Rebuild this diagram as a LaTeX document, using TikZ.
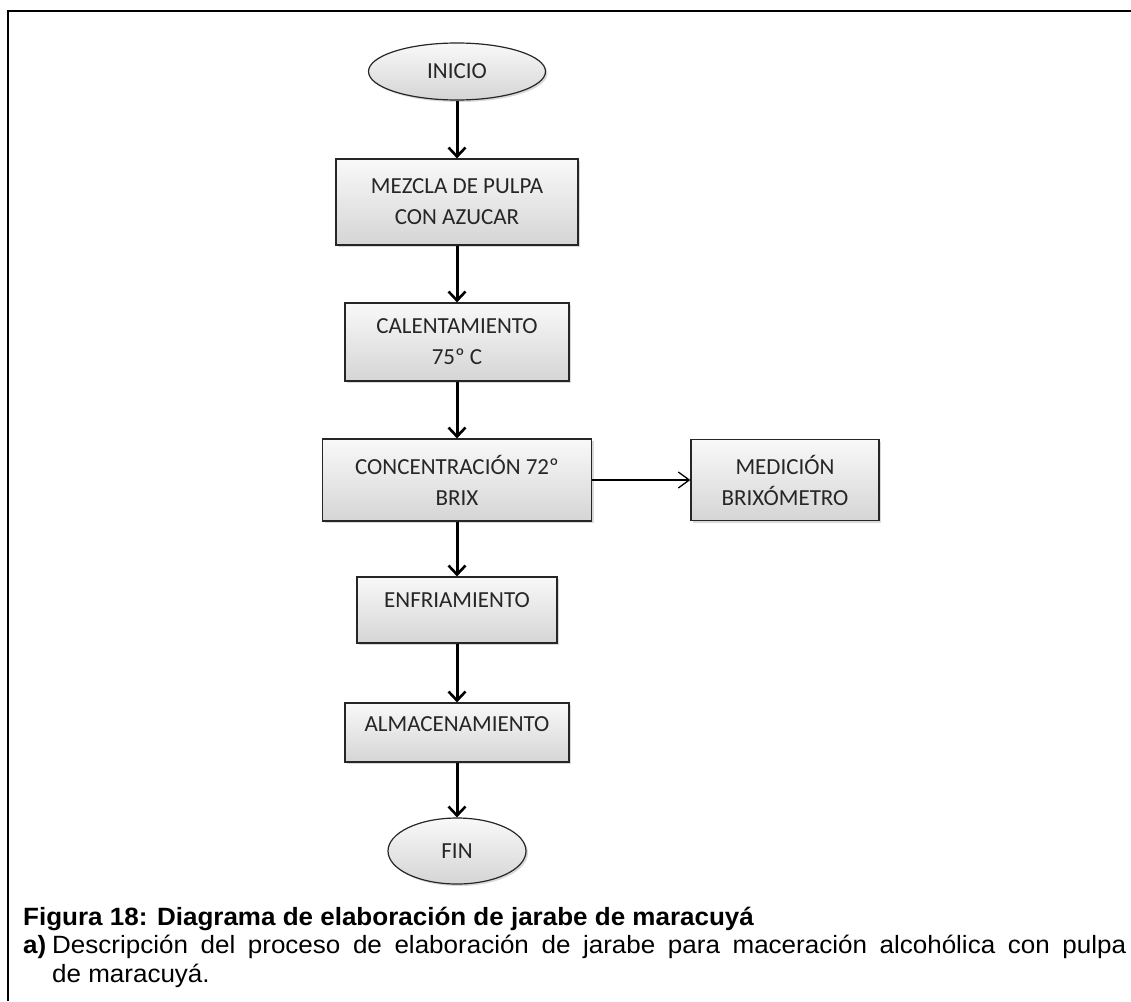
\documentclass[tikz,border=0pt]{standalone}
\usepackage{fontspec}
\setmainfont{Liberation Sans}
\newfontfamily\capfont[FakeStretch=1.04]{Liberation Sans}
\newfontfamily\boxfont{Carlito}
\usetikzlibrary{arrows.meta,shadows,shapes.geometric}
\tikzset{
  grad/.style={top color=gray!5, bottom color=gray!33, draw=black!85, line width=1.2pt,
    drop shadow={shadow xshift=2pt, shadow yshift=-2pt, opacity=0.3}},
  procbox/.style={grad, rectangle, inner sep=0pt, font={\boxfont\fontsize{23}{31}\selectfont}, text=black!85},
  twoline/.style={align=center},
  term/.style={grad, ellipse, inner sep=0pt, font={\boxfont\fontsize{23}{31}\selectfont}, text=black!85},
  flow/.style={line width=3pt, -{Straight Barb[length=9pt,width=17pt,line width=2.6pt]}},
  side/.style={line width=1.3pt, -{Straight Barb[length=11pt,width=16pt,line width=1.3pt]}},
  frame/.style={line width=2.5pt},
  captext/.style={anchor=base west, inner sep=0pt, font={\capfont\fontsize{25}{28.5}\selectfont}},
}
\begin{document}
\begin{tikzpicture}[x=1pt,y=-1pt]
\useasboundingbox (0,0) rectangle (1131,1001);
\draw[frame] (8,1001) -- (8,11) -- (1131,11);

\node[term, minimum width=177pt, minimum height=57pt] (ini) at (457,71.5) {INICIO};
\node[procbox, twoline, minimum width=242pt, minimum height=86pt] (mez) at (457,202) {MEZCLA DE PULPA\\CON AZUCAR};
\node[procbox, twoline, minimum width=224pt, minimum height=78pt] (cal) at (457,342) {CALENTAMIENTO\\75º C};
\node[procbox, twoline, minimum width=269pt, minimum height=82pt] (con) at (457,480) {CONCENTRACIÓN 72º\\BRIX};
\node[procbox, twoline, minimum width=188pt, minimum height=81pt] (med) at (785,480) {MEDICIÓN\\BRIXÓMETRO};
\node[procbox, minimum width=200pt, minimum height=66pt, text height=15pt, text depth=19.6pt] (enf) at (457,610) {ENFRIAMIENTO};
\node[procbox, minimum width=224pt, minimum height=59pt, text height=15pt, text depth=16.6pt] (alm) at (457,732.5) {ALMACENAMIENTO};
\node[term, minimum width=138pt, minimum height=66pt] (fin) at (457,851) {FIN};

\draw[flow] (ini.south) -- (mez.north);
\draw[flow] (mez.south) -- (cal.north);
\draw[flow] (cal.south) -- (con.north);
\draw[flow] (con.south) -- (enf.north);
\draw[flow] (enf.south) -- (alm.north);
\draw[flow] (alm.south) -- (fin.north);
\draw[side] (con.east) -- (med.west);

\node[captext] (cap) at (23,925)
  {\bfseries Figura 18: Diagrama de elaboración de jarabe de maracuyá};
\node[captext] (desc) at (23,953.5)
  {\parbox[t]{1103pt}{\tolerance=10000\hbadness=10000\hangindent=29pt\hangafter=1 \makebox[29pt][l]{\bfseries a)}Descripción del proceso de elaboración de jarabe para maceración alcohólica con pulpa\linebreak de maracuyá.}};
\end{tikzpicture}
\end{document}
